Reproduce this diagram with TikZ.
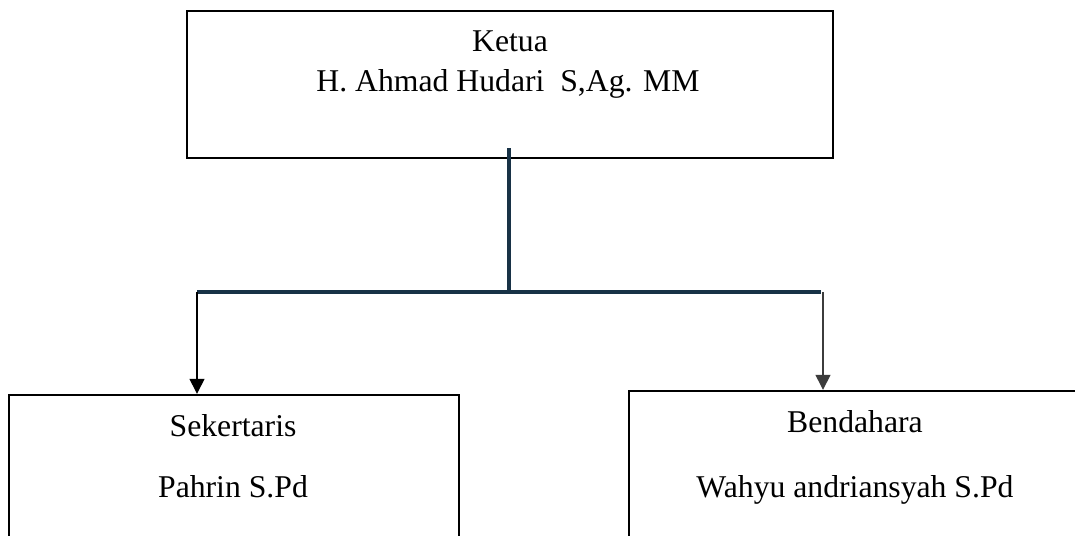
\documentclass[tikz,border=0pt]{standalone}
\usepackage{fontspec}
\setmainfont{Liberation Serif}
\usetikzlibrary{arrows.meta}
\definecolor{navy}{RGB}{24,50,70}
\definecolor{greyline}{RGB}{60,60,60}
\begin{document}
\begin{tikzpicture}[x=1pt,y=-1pt,
  box/.style={draw=black, line width=2.4pt, rectangle, inner sep=0pt},
  lbl/.style={anchor=base, inner sep=0pt, font=\fontsize{31.7}{38}\selectfont},
  trunkline/.style={draw=navy, line width=3.2pt},
  arr/.style={draw=black, line width=1.4pt, -{Triangle[width=15pt,length=15pt]}},
]
\useasboundingbox (0,0) rectangle (1075,535);
\clip (0,0) rectangle (1075,535);
\fill[white] (0,0) rectangle (1075,535);

% boxes
\node[box, minimum width=646pt, minimum height=147pt] (ketua) at (510,84.5) {};
\node[box, minimum width=450pt, minimum height=205pt] (sek) at (234,497.5) {};
\node[box, minimum width=461pt, minimum height=209pt] (bend) at (859.5,495.5) {};

% texts
\node[lbl] (t1) at (510,52) {Ketua};
\node[lbl] (t2) at (508,91) {H. Ahmad Hudari\ \ S,Ag. MM};
\node[lbl] (t3) at (233,436) {Sekertaris};
\node[lbl] (t4) at (233,497) {Pahrin S.Pd};
\node[lbl] (t5) at (855,432) {Bendahara};
\node[lbl] (t6) at (855,497) {Wahyu andriansyah S.Pd};

% connectors
\coordinate (trunktop) at (509,148);
\coordinate (lbend) at (197,292);
\coordinate (rbend) at (821,292);
\coordinate (rarr) at (823,292);
\draw[trunkline] (trunktop) -- (trunktop |- lbend);
\draw[trunkline] (lbend) -- (rbend);
\draw[arr] (lbend) -- (lbend |- sek.north);
\draw[arr, draw=greyline, fill=greyline] (rarr) -- (rarr |- bend.north);
\end{tikzpicture}
\end{document}
